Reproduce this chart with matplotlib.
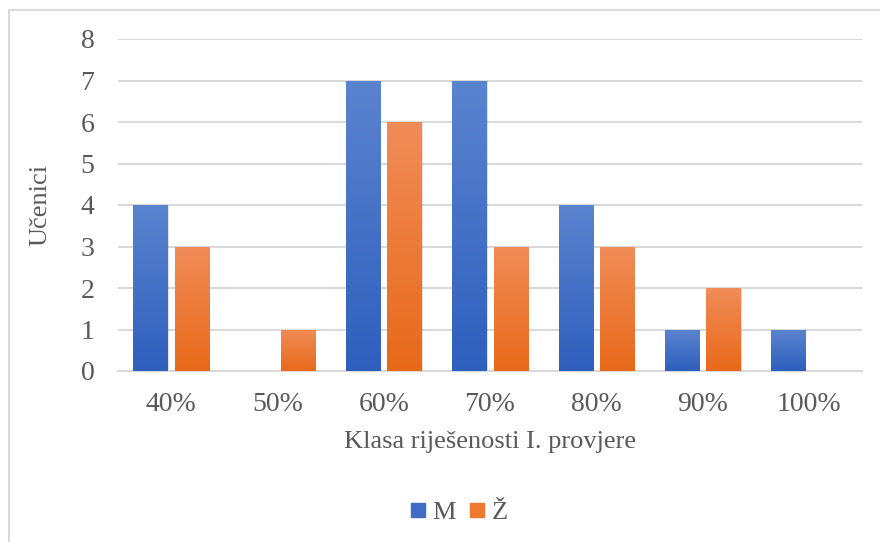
import matplotlib
matplotlib.use("Agg")
import matplotlib.pyplot as plt
import numpy as np
from matplotlib.patches import Rectangle
from matplotlib.colors import LinearSegmentedColormap
from matplotlib.lines import Line2D

categories = ["40%", "50%", "60%", "70%", "80%", "90%", "100%"]
series_m = [4, 0, 7, 7, 4, 1, 1]
series_z = [3, 1, 6, 3, 3, 2, 0]
series_names = ["M", "Ž"]
yticks = [0, 1, 2, 3, 4, 5, 6, 7, 8]

plt.rcParams['font.family'] = ['Liberation Serif', 'DejaVu Serif']

fig = plt.figure(figsize=(8.8, 5.42), dpi=100)
ax = fig.add_axes([118/880, 1 - 371/542, (862-118)/880, (371-39)/542])

# figure border
fig.patches.append(Rectangle((9/880, -0.01), 1.0, 1 - 10/542 + 0.01, transform=fig.transFigure,
                             fill=False, edgecolor='#d9d9d9', linewidth=1.5))

x = np.arange(len(categories))
w = 0.32
off = 0.195
blue_cmap = LinearSegmentedColormap.from_list("b", ["#2f5fbd", "#5b84cf"])
orange_cmap = LinearSegmentedColormap.from_list("o", ["#e8691a", "#f08c58"])

ax.set_xlim(-0.5, len(categories) - 0.5)
ax.set_ylim(0, 8)

def grad_bars(xs, vals, cmap, color):
    bars = ax.bar(xs, vals, w, color=color, zorder=3, linewidth=0)
    grad = np.linspace(0, 1, 256).reshape(-1, 1)
    for b in bars:
        h = b.get_height()
        if h <= 0:
            continue
        x0 = b.get_x()
        sh = Rectangle((x0 + 0.012, -0.02), b.get_width(), h, color='#000000', alpha=0.12,
                       zorder=2, linewidth=0)
        ax.add_patch(sh)
        im = ax.imshow(grad, extent=[x0, x0 + b.get_width(), 0, h], origin='lower',
                       cmap=cmap, aspect='auto', zorder=4, vmin=0, vmax=1)
        im.set_clip_path(b)
    return bars

grad_bars(x - off, series_m, blue_cmap, "#4472c4")
grad_bars(x + off, series_z, orange_cmap, "#ed7d31")
ax.set_xlim(-0.5, len(categories) - 0.5)
ax.set_ylim(0, 8)

ax.set_yticks(yticks)
ax.set_xticks(x)
ax.set_xticklabels(categories)
ax.yaxis.grid(True, color='#d9d9d9', linewidth=1.5, zorder=0)
ax.set_axisbelow(True)
for s in ['top', 'right', 'left']:
    ax.spines[s].set_visible(False)
ax.spines['bottom'].set_color('#d9d9d9')
ax.spines['bottom'].set_linewidth(1.5)
ax.tick_params(axis='both', length=0, labelsize=20, labelcolor='#595959')
ax.tick_params(axis='x', pad=15)
ax.tick_params(axis='y', pad=17)

ax.set_xlabel("Klasa riješenosti I. provjere", fontsize=19, color='#595959', labelpad=10)
ax.set_ylabel("Učenici", fontsize=19, color='#595959', labelpad=21)

handles = [Line2D([], [], marker='s', linestyle='none', markersize=10, color=c) for c in ["#3f6cc6", "#ee7a32"]]
fig.legend(handles, series_names, loc='center', bbox_to_anchor=(458/880, 1 - 512/542), ncol=2,
           frameon=False, fontsize=19, labelcolor='#595959', handlelength=0.7,
           handletextpad=0.2, columnspacing=0.45)

fig.savefig("out.png", dpi=100)
